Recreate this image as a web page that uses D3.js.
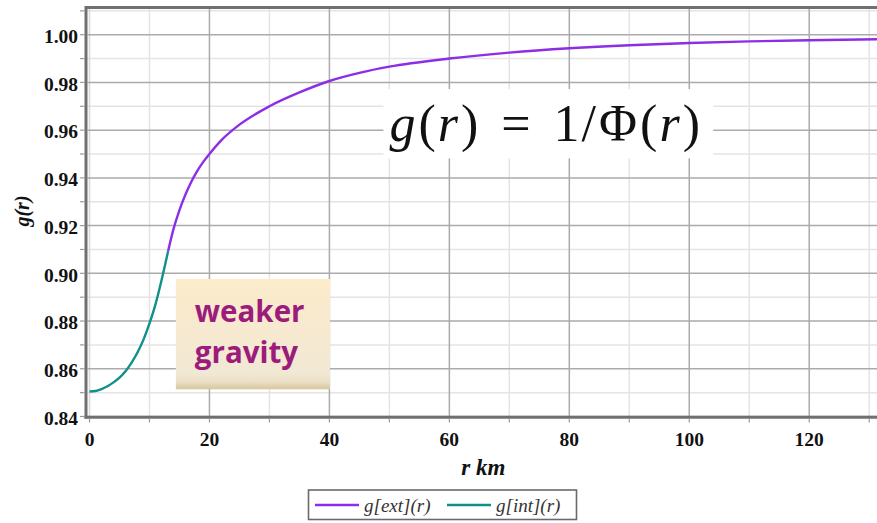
<!DOCTYPE html>
<html>
<head>
<meta charset="utf-8">
<script src="https://cdn.jsdelivr.net/npm/d3@7"></script>
<style>
  html, body { margin: 0; padding: 0; background: #ffffff; }
  svg { display: block; }
</style>
</head>
<body>
<svg id="chart" width="877" height="523"></svg>
<script>
// Interior solution g[int](r), r in km
const intR = [0, 1, 2, 3, 4, 5, 6, 7, 8, 9, 10, 11, 12, 13.1];
const intG = [0.8505, 0.8507, 0.8515, 0.8527, 0.8543, 0.8563, 0.8590, 0.8625, 0.8668, 0.8722, 0.8790, 0.8870, 0.8970, 0.9092];

// Exterior solution g[ext](r), r in km
const extR = [13.1, 14, 15, 16, 17, 18, 19, 20, 22, 25, 30, 35, 40, 45, 50, 60, 70, 80, 90, 100, 110, 120, 131.3];
const extG = [0.9092, 0.9185, 0.9265, 0.9330, 0.9385, 0.9430, 0.9468, 0.9500, 0.9558, 0.9623, 0.9700, 0.9758, 0.9806, 0.9840, 0.9866, 0.9900, 0.9925, 0.9943, 0.9956, 0.9965, 0.9972, 0.9977, 0.9981];

const xDomain = [0, 131.3];
const yDomain = [0.84, 1.0114];
const xMajorTicks = [0, 20, 40, 60, 80, 100, 120];
const xMinorTicks = [10, 30, 50, 70, 90, 110, 130];
const yMajorTicks = [0.84, 0.86, 0.88, 0.90, 0.92, 0.94, 0.96, 0.98, 1.00];
const yMinorTicks = [0.85, 0.87, 0.89, 0.91, 0.93, 0.95, 0.97, 0.99, 1.01];

const xTitle = "r km";
const yTitle = "g(r)";
const seriesNames = ["g[ext](r)", "g[int](r)"];
const seriesColors = ["#8d2ee6", "#118f8a"];
const noteLines = ["weaker", "gravity"];

const svg = d3.select("#chart");
const plot = { left: 89.5, right: 877, top: 7.5, bottom: 416.5 };

const x = d3.scaleLinear().domain(xDomain).range([plot.left, plot.right]);
const y = d3.scaleLinear().domain(yDomain).range([plot.bottom, plot.top]);

const serif = "'Liberation Serif', 'Times New Roman', serif";

// minor grid
const grid = svg.append("g");
grid.selectAll(".vminor").data(xMinorTicks).join("line")
  .attr("x1", d => x(d)).attr("x2", d => x(d))
  .attr("y1", plot.top).attr("y2", plot.bottom)
  .attr("stroke", "#e4e4e4").attr("stroke-width", 1.5);
grid.selectAll(".hminor").data(yMinorTicks).join("line")
  .attr("x1", plot.left - 2).attr("x2", plot.right)
  .attr("y1", d => y(d)).attr("y2", d => y(d))
  .attr("stroke", "#e4e4e4").attr("stroke-width", 1.5);
// major grid
grid.selectAll(".vmajor").data(xMajorTicks).join("line")
  .attr("x1", d => x(d)).attr("x2", d => x(d))
  .attr("y1", plot.top).attr("y2", plot.bottom)
  .attr("stroke", d => d === 0 ? "#d8d8d8" : "#ababab").attr("stroke-width", 1.5);
grid.selectAll(".hmajor").data(yMajorTicks).join("line")
  .attr("x1", plot.left - 2).attr("x2", plot.right)
  .attr("y1", d => y(d)).attr("y2", d => y(d))
  .attr("stroke", "#ababab").attr("stroke-width", 1.5);

// formula panel (white box over the grid)
const fx = x(49), fw = x(104) - x(49);
svg.append("rect")
  .attr("x", fx).attr("y", y(0.9772))
  .attr("width", fw).attr("height", y(0.9482) - y(0.9772))
  .attr("fill", "#ffffff");
const formula = svg.append("text")
  .attr("x", fx + 6).attr("y", y(0.9555))
  .attr("font-family", serif)
  .attr("font-size", 52)
  .attr("fill", "#111");
// [text, italic, extra spacing before]
const formulaParts = [
  ["g", true, 0], ["(", false, 3], ["r", true, 2], [")", false, 3],
  ["=", false, 23], ["1", false, 23], ["/", false, 2], ["Φ", false, 3],
  ["(", false, 3], ["r", true, 2], [")", false, 3]
];
formulaParts.forEach(([t, it, dx]) => {
  formula.append("tspan")
    .attr("dx", dx)
    .attr("font-style", it ? "italic" : "normal")
    .text(t);
});

// axis frame
const frameColor = "#707070";
svg.append("line").attr("x1", 86).attr("x2", plot.right).attr("y1", plot.top).attr("y2", plot.top)
  .attr("stroke", frameColor).attr("stroke-width", 3);
svg.append("line").attr("x1", 86).attr("x2", 86).attr("y1", plot.top - 1.5).attr("y2", plot.bottom + 2)
  .attr("stroke", frameColor).attr("stroke-width", 3);
svg.append("line").attr("x1", 84.5).attr("x2", plot.right).attr("y1", plot.bottom + 0.8).attr("y2", plot.bottom + 0.8)
  .attr("stroke", frameColor).attr("stroke-width", 3);

// tick marks
svg.append("g").selectAll("line").data(xMajorTicks.concat(xMinorTicks)).join("line")
  .attr("x1", d => x(d)).attr("x2", d => x(d))
  .attr("y1", plot.bottom + 2).attr("y2", plot.bottom + 6)
  .attr("stroke", "#9a9a9a").attr("stroke-width", 1.2);
svg.append("g").selectAll("line").data(yMajorTicks.concat(yMinorTicks)).join("line")
  .attr("x1", 80).attr("x2", 84.5)
  .attr("y1", d => y(d)).attr("y2", d => y(d))
  .attr("stroke", "#9a9a9a").attr("stroke-width", 1.2);

// tick labels
svg.append("g").selectAll("text").data(xMajorTicks).join("text")
  .attr("x", d => x(d)).attr("y", 446)
  .attr("text-anchor", "middle")
  .attr("font-family", serif).attr("font-weight", "bold").attr("font-size", 19.5)
  .attr("fill", "#111")
  .text(d => d3.format("d")(d));
svg.append("g").selectAll("text").data(yMajorTicks).join("text")
  .attr("x", 78).attr("y", d => y(d) + 8.3)
  .attr("text-anchor", "end")
  .attr("font-family", serif).attr("font-weight", "bold").attr("font-size", 19.5)
  .attr("fill", "#111")
  .text(d => d3.format(".2f")(d));

// axis titles
svg.append("text")
  .attr("x", (plot.left + plot.right) / 2).attr("y", 475)
  .attr("text-anchor", "middle")
  .attr("font-family", serif).attr("font-weight", "bold").attr("font-style", "italic")
  .attr("font-size", 23).attr("fill", "#111")
  .text(xTitle);
svg.append("text")
  .attr("transform", "translate(29,211) rotate(-90)")
  .attr("text-anchor", "middle")
  .attr("font-family", serif).attr("font-weight", "bold").attr("font-style", "italic")
  .attr("font-size", 20).attr("fill", "#111")
  .text(yTitle);

// curves
const line = d3.line().x(d => x(d[0])).y(d => y(d[1])).curve(d3.curveMonotoneX);
svg.append("path")
  .datum(extR.map((r, i) => [r, extG[i]]))
  .attr("d", line).attr("fill", "none")
  .attr("stroke", seriesColors[0]).attr("stroke-width", 2.4);
svg.append("path")
  .datum(intR.map((r, i) => [r, intG[i]]))
  .attr("d", line).attr("fill", "none")
  .attr("stroke", seriesColors[1]).attr("stroke-width", 2.4);

// annotation box
const defs = svg.append("defs");
const grad = defs.append("linearGradient").attr("id", "noteFill")
  .attr("x1", 0).attr("y1", 0).attr("x2", 0).attr("y2", 1);
grad.append("stop").attr("offset", 0).attr("stop-color", "#fdebcb");
grad.append("stop").attr("offset", 0.86).attr("stop-color", "#f1e8d4");
grad.append("stop").attr("offset", 0.93).attr("stop-color", "#ebe0c6");
grad.append("stop").attr("offset", 1).attr("stop-color", "#d8c69e");
const nx = x(14.4), ny = y(0.8976);
svg.append("rect")
  .attr("x", nx).attr("y", ny)
  .attr("width", x(40.1) - nx).attr("height", y(0.8514) - ny)
  .attr("fill", "url(#noteFill)");
const note = svg.append("text")
  .attr("font-family", "'Open Sans', 'Noto Sans', sans-serif")
  .attr("font-weight", "bold").attr("font-size", 29.5)
  .attr("fill", "#9b1c7b");
noteLines.forEach((t, i) => {
  note.append("tspan").attr("x", nx + 19).attr("y", ny + 43 + i * 41).text(t);
});

// legend
const lg = svg.append("g");
lg.append("rect").attr("x", 308.5).attr("y", 490).attr("width", 268).attr("height", 29.5)
  .attr("fill", "#ffffff").attr("stroke", "#6a6a6a").attr("stroke-width", 1.6);
const legendX = [315, 447];
seriesNames.forEach((name, i) => {
  lg.append("line").attr("x1", legendX[i]).attr("x2", legendX[i] + 44)
    .attr("y1", 505).attr("y2", 505)
    .attr("stroke", seriesColors[i]).attr("stroke-width", 2.4);
  lg.append("text").attr("x", legendX[i] + 49).attr("y", 512)
    .attr("font-family", serif).attr("font-style", "italic").attr("font-size", 19)
    .attr("fill", "#333")
    .text(name);
});
</script>
</body>
</html>
